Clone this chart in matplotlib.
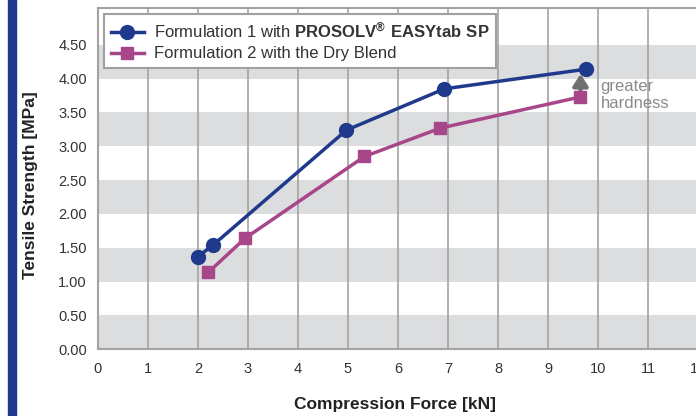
import matplotlib
matplotlib.use("Agg")
import matplotlib.pyplot as plt
from matplotlib.patches import Rectangle

# data
force_f1 = [2.0, 2.3, 4.97, 6.93, 9.76]
strength_f1 = [1.37, 1.54, 3.24, 3.85, 4.14]
force_f2 = [2.21, 2.94, 5.33, 6.85, 9.65]
strength_f2 = [1.14, 1.64, 2.85, 3.27, 3.73]

x_ticks = list(range(0, 13))
y_ticks = [0.0, 0.5, 1.0, 1.5, 2.0, 2.5, 3.0, 3.5, 4.0, 4.5]
label_f1 = r"Formulation 1 with $\mathbf{PROSOLV^{®}\ EASYtab\ SP}$"
label_f2 = "Formulation 2 with the Dry Blend"

BLUE = "#1f3a8c"
MAGENTA = "#a8468a"
BAND = "#dcdddf"
GRID = "#a3a3a3"

plt.rcParams["font.family"] = ["Liberation Sans", "DejaVu Sans"]
plt.rcParams["mathtext.fontset"] = "custom"
plt.rcParams["mathtext.bf"] = "Liberation Sans:bold"
plt.rcParams["mathtext.rm"] = "Liberation Sans"

fig = plt.figure(figsize=(6.96, 4.16), dpi=100)
ax = fig.add_axes([98 / 696, 1 - 349.3 / 416, 600 / 696, 341 / 416])
ax.set_xlim(0, 12)
ax.set_ylim(0, 5.04)

# alternating horizontal bands
for lo in y_ticks[::2]:
    ax.axhspan(lo, lo + 0.5, color=BAND, lw=0, zorder=0)
for x in x_ticks[1:]:
    ax.axvline(x, color=GRID, lw=1.2, zorder=1)

ax.plot(force_f1, strength_f1, color=BLUE, lw=2.5, marker="o", ms=10,
        label=label_f1, zorder=4)
ax.plot(force_f2, strength_f2, color=MAGENTA, lw=2.5, marker="s", ms=9,
        label=label_f2, zorder=4)

ax.annotate("", xy=(force_f2[-1], strength_f1[-1] - 0.07),
            xytext=(force_f2[-1], strength_f2[-1] + 0.08),
            arrowprops=dict(arrowstyle="-|>,head_width=0.45,head_length=0.7",
                            color="#707070", lw=3, shrinkA=0, shrinkB=0),
            zorder=3)
ax.text(10.05, 3.76, "greater\nhardness", color="#8a8a8a", fontsize=12,
        va="center", ha="left", linespacing=1.15, zorder=5)

ax.set_xticks(x_ticks)
ax.set_yticks(y_ticks)
ax.set_yticklabels([f"{v:.2f}" for v in y_ticks])
ax.tick_params(length=0, colors="#333333", labelsize=10.5)
ax.tick_params(axis="x", pad=9)
ax.tick_params(axis="y", pad=8)

for side in ["left", "bottom", "top"]:
    ax.spines[side].set_color(GRID)
    ax.spines[side].set_linewidth(1.5)
ax.spines["right"].set_visible(False)

fig.text(395 / 696, 1 - 405 / 416, "Compression Force [kN]", ha="center",
         va="center", fontsize=12.5, fontweight="bold", color="#222222")
fig.text(31 / 696, 1 - 185 / 416, "Tensile Strength [MPa]", ha="center",
         va="center", rotation=90, fontsize=12.5, fontweight="bold", color="#222222")

# blue bar on the left edge
fig.patches.append(Rectangle((8 / 696, 0), 8 / 696, 1, transform=fig.transFigure,
                             color=BLUE, zorder=0))

leg = ax.legend(loc="upper left", bbox_to_anchor=(104 / 696, 1 - 14 / 416),
                bbox_transform=fig.transFigure, fontsize=12, frameon=True,
                fancybox=False, edgecolor="#a0a0a0", framealpha=1,
                handlelength=2.0, borderpad=0.4, labelspacing=0.35,
                handletextpad=0.6, borderaxespad=0)
leg.get_frame().set_linewidth(1.5)
for t in leg.get_texts():
    t.set_color("#333333")

fig.savefig("out.png", dpi=100)
